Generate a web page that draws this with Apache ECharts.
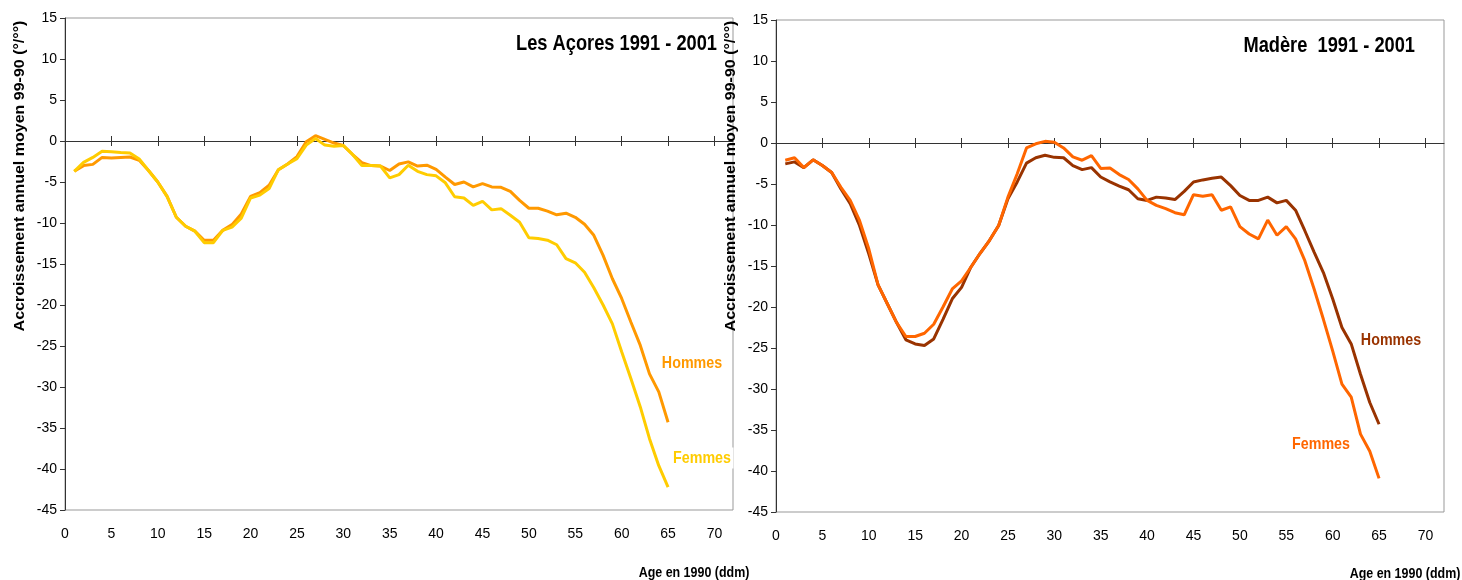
<!DOCTYPE html>
<html>
<head>
<meta charset="utf-8">
<script src="https://cdn.jsdelivr.net/npm/echarts@6/dist/echarts.min.js"></script>
<style>html,body{margin:0;padding:0;background:#fff}#c{width:1462px;height:580px}</style>
</head>
<body>
<div id="c"></div>
<script>
const ages = [1,2,3,4,5,6,7,8,9,10,11,12,13,14,15,16,17,18,19,20,21,22,23,24,25,26,27,28,29,30,31,32,33,34,35,36,37,38,39,40,41,42,43,44,45,46,47,48,49,50,51,52,53,54,55,56,57,58,59,60,61,62,63,64,65];
const xTicks = [0,5,10,15,20,25,30,35,40,45,50,55,60,65,70];

const acoresHommes = [-3.7,-3.0,-2.85,-2.0,-2.07,-2.0,-1.95,-2.35,-3.6,-5.0,-6.75,-9.3,-10.4,-11.0,-12.1,-12.1,-10.9,-10.2,-8.9,-6.75,-6.3,-5.4,-3.5,-2.8,-1.9,-0.1,0.65,0.2,-0.25,-0.55,-1.65,-2.65,-3.0,-3.05,-3.6,-2.8,-2.55,-3.05,-2.95,-3.45,-4.4,-5.3,-5.0,-5.6,-5.2,-5.6,-5.65,-6.15,-7.25,-8.2,-8.2,-8.55,-9.0,-8.8,-9.3,-10.15,-11.5,-13.95,-16.8,-19.2,-22.1,-24.9,-28.4,-30.6,-34.3];
const acoresFemmes = [-3.7,-2.6,-2.0,-1.26,-1.3,-1.4,-1.46,-2.2,-3.6,-5.0,-6.75,-9.3,-10.4,-11.0,-12.4,-12.4,-10.9,-10.5,-9.4,-6.95,-6.6,-5.8,-3.5,-2.8,-2.15,-0.5,0.3,-0.5,-0.65,-0.55,-1.65,-3.0,-3.0,-3.05,-4.5,-4.1,-2.95,-3.7,-4.1,-4.25,-5.1,-6.8,-6.95,-7.85,-7.35,-8.4,-8.25,-9.05,-9.9,-11.8,-11.9,-12.1,-12.65,-14.35,-14.85,-16.0,-17.9,-20.0,-22.3,-25.7,-29.0,-32.4,-36.3,-39.6,-42.2];
const madereHommes = [-2.55,-2.3,-3.0,-2.05,-2.75,-3.6,-5.6,-7.4,-10.05,-13.5,-17.3,-19.6,-21.9,-24.0,-24.5,-24.7,-23.9,-21.5,-19.0,-17.6,-15.15,-13.45,-11.9,-10.05,-6.8,-4.75,-2.45,-1.8,-1.5,-1.75,-1.8,-2.75,-3.25,-3.0,-4.15,-4.75,-5.25,-5.7,-6.8,-7.0,-6.6,-6.7,-6.9,-5.9,-4.75,-4.5,-4.3,-4.15,-5.2,-6.4,-7.0,-7.0,-6.6,-7.3,-7.0,-8.2,-10.7,-13.3,-15.8,-19.0,-22.5,-24.5,-28.2,-31.65,-34.3];
const madereFemmes = [-2.1,-1.8,-3.0,-2.05,-2.75,-3.6,-5.4,-7.0,-9.45,-12.9,-17.3,-19.6,-21.9,-23.6,-23.6,-23.2,-22.1,-20.0,-17.8,-16.8,-15.15,-13.45,-11.9,-10.05,-6.6,-3.75,-0.6,-0.1,0.2,0.1,-0.6,-1.7,-2.1,-1.55,-3.1,-3.05,-3.85,-4.45,-5.6,-7.0,-7.6,-8.0,-8.5,-8.75,-6.3,-6.5,-6.3,-8.2,-7.8,-10.2,-11.1,-11.7,-9.4,-11.25,-10.2,-11.7,-14.35,-17.8,-21.5,-25.35,-29.4,-31.0,-35.5,-37.6,-40.9];

const titles = ['Les Açores 1991 - 2001', 'Madère  1991 - 2001'];
const yTitle = 'Accroissement annuel moyen 99-90 (°/°°)';
const xTitle = 'Age en 1990 (ddm)';
const seriesNames = ['Hommes', 'Femmes'];

const FONT = '"Liberation Sans", Arial, sans-serif';
const pair = v => ages.map((a, i) => [a, v[i]]);

function xAxes(grid, yIdx) {
  const base = {type: 'value', gridIndex: grid, min: 0, max: 72, interval: 5, splitLine: {show: false}};
  return [
    Object.assign({}, base, {
      position: 'bottom',
      axisLine: {show: false, onZero: false},
      axisTick: {show: false},
      axisLabel: {margin: 17, fontSize: 14, color: '#000', fontFamily: FONT, customValues: xTicks}
    }),
    Object.assign({}, base, {
      position: 'top',
      axisLine: {show: true, onZero: true, onZeroAxisIndex: yIdx, lineStyle: {color: '#333', width: 1}},
      axisTick: {show: true, length: 5, lineStyle: {color: '#333'}, customValues: xTicks},
      axisLabel: {show: false}
    }),
    Object.assign({}, base, {
      position: 'bottom',
      axisLine: {show: false, onZero: true, onZeroAxisIndex: yIdx},
      axisTick: {show: true, length: 5, lineStyle: {color: '#333'}, customValues: xTicks},
      axisLabel: {show: false}
    })
  ];
}
function yAxis(grid) {
  return {
    type: 'value', gridIndex: grid, min: -45, max: 15, interval: 5,
    axisLine: {show: true, onZero: false, lineStyle: {color: '#333', width: 1}},
    axisTick: {show: true, length: 5, lineStyle: {color: '#333'}},
    axisLabel: {margin: 8, fontSize: 14, color: '#000', fontFamily: FONT},
    splitLine: {show: false}
  };
}
function line(name, data, xi, yi, color) {
  return {
    type: 'line', name: name, data: pair(data), xAxisIndex: xi, yAxisIndex: yi,
    showSymbol: false, symbol: 'none', smooth: false, animation: false,
    lineStyle: {color: color, width: 3}, itemStyle: {color: color}
  };
}
function txt(t, x, y, opts) {
  return Object.assign({
    type: 'text', x: x, y: y, z: 100,
    style: Object.assign({text: t, fontFamily: FONT, fontSize: 18, fill: '#000', align: 'center', verticalAlign: 'middle'}, opts.style || {})
  }, opts.el || {});
}

const chart = echarts.init(document.getElementById('c'), null, {renderer: 'canvas'});
chart.setOption({
  animation: false,
  backgroundColor: '#fff',
  grid: [
    {left: 65, top: 18, width: 668, height: 492, show: true, borderColor: '#999', borderWidth: 1, backgroundColor: 'transparent'},
    {left: 776, top: 20, width: 668, height: 492, show: true, borderColor: '#999', borderWidth: 1, backgroundColor: 'transparent'}
  ],
  xAxis: xAxes(0, 0).concat(xAxes(1, 1)),
  yAxis: [yAxis(0), yAxis(1)],
  series: [
    line(seriesNames[0], acoresHommes, 0, 0, '#FF9900'),
    line(seriesNames[1], acoresFemmes, 0, 0, '#FFCC00'),
    line(seriesNames[0], madereHommes, 3, 1, '#993300'),
    line(seriesNames[1], madereFemmes, 3, 1, '#FF6600')
  ],
  graphic: [
    txt(titles[0], 717, 44, {style: {fontSize: 22, fontWeight: 'bold', align: 'right'}, el: {scaleX: 0.83}}),
    txt(titles[1], 1415, 46, {style: {fontSize: 22, fontWeight: 'bold', align: 'right'}, el: {scaleX: 0.83}}),
    txt(yTitle, 20, 176, {style: {fontSize: 16, fontWeight: 'bold'}, el: {rotation: Math.PI / 2, scaleY: 0.9}}),
    txt(yTitle, 731, 176, {style: {fontSize: 16, fontWeight: 'bold'}, el: {rotation: Math.PI / 2, scaleY: 0.9}}),
    txt(seriesNames[0], 692, 363, {style: {fill: '#FF9900', fontWeight: 'bold', fontSize: 17}, el: {scaleX: 0.84}}),
    txt(seriesNames[1], 702, 458, {style: {fill: '#FFCC00', fontWeight: 'bold', fontSize: 17, backgroundColor: '#fff', padding: [2, 3]}, el: {scaleX: 0.84}}),
    txt(seriesNames[0], 1391, 340, {style: {fill: '#993300', fontWeight: 'bold', fontSize: 17}, el: {scaleX: 0.84}}),
    txt(seriesNames[1], 1321, 444, {style: {fill: '#FF6600', fontWeight: 'bold', fontSize: 17}, el: {scaleX: 0.84}}),
    txt(xTitle, 694, 573, {style: {fontSize: 15, fontWeight: 'bold'}, el: {scaleX: 0.83}}),
    txt(xTitle, 1405, 574, {style: {fontSize: 15, fontWeight: 'bold'}, el: {scaleX: 0.83}})
  ]
});
</script>
</body>
</html>
